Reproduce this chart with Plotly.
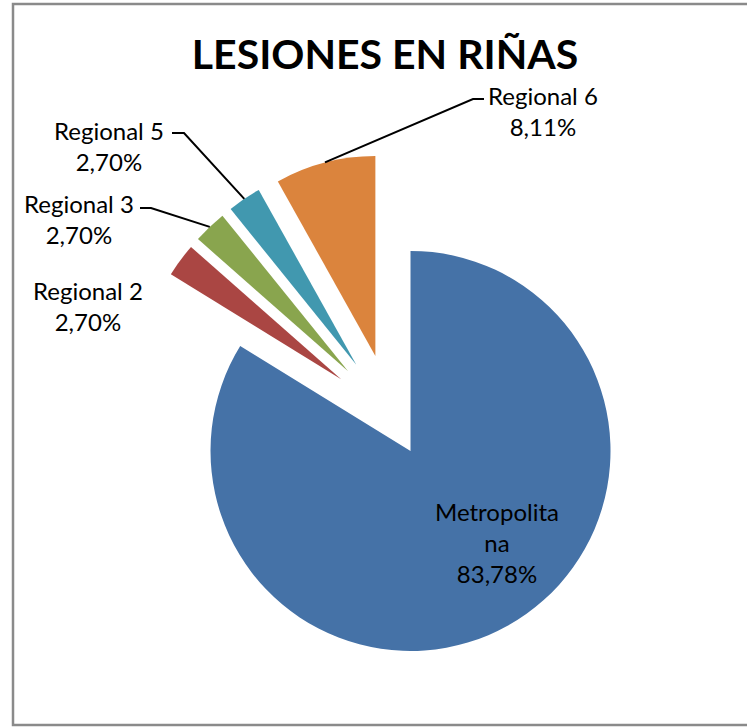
import math
import plotly.graph_objects as go

# ---- data ----
categories = ["Metropolitana", "Regional 2", "Regional 3", "Regional 5", "Regional 6"]
values = [31, 1, 1, 1, 3]
display_names = ["Metropolita<br>na", "Regional 2", "Regional 3", "Regional 5", "Regional 6"]
title_text = "LESIONES EN RIÑAS"

# ---- style ----
colors = ["#4572A7", "#AA4643", "#89A54E", "#4198AF", "#DB843D"]
pulls = [0.2, 0.31, 0.31, 0.31, 0.31]
FONT = "Lato"

W, H = 747, 727
CX, CY, RP = 391.0, 416.0, 200.0  # pie centre / radius in pixels

total = sum(values)
pct_text = [("%.2f" % (v / total * 100)).replace(".", ",") + "%" for v in values]

maxp = max(pulls)
half = RP * (1 + maxp)
dom_x = [(CX - half) / W, (CX + half) / W]
dom_y = [(H - CY - half) / H, (H - CY + half) / H]

fig = go.Figure(go.Pie(
    labels=categories,
    values=values,
    sort=False,
    direction="clockwise",
    rotation=0,
    pull=pulls,
    marker=dict(colors=colors, line=dict(width=0)),
    textinfo="none",
    hoverinfo="label+percent",
    showlegend=False,
    domain=dict(x=dom_x, y=dom_y),
))


def px(x, y):
    return x / W, 1 - y / H


# slice mid-angles (clockwise from 12 o'clock) -> outer edge point of each pulled slice
cum = 0.0
edge_pts = []
for v, p in zip(values, pulls):
    mid = (cum + v / 2) / total * 2 * math.pi
    cum += v
    d = RP * (1 + p)
    edge_pts.append((CX + d * math.sin(mid), CY - d * math.cos(mid)))

# label placement (pixels): centre of text block
label_pos = {
    0: (497, 542),
    1: (88, 306),
    2: (79, 219),
    3: (109, 146),
    4: (543, 111),
}
# leader line start points (label side): (start, elbow)
leader = {
    2: ((140, 208), (151, 208)),
    3: ((172, 133), (184, 133)),
    4: ((484, 99), (473, 99)),
}

annotations = []
for i, (lx, ly) in label_pos.items():
    ax_, ay_ = px(lx, ly)
    annotations.append(dict(
        x=ax_, y=ay_, xref="paper", yref="paper",
        text=display_names[i] + "<br>" + pct_text[i],
        showarrow=False, xanchor="center", yanchor="middle", align="center",
        font=dict(family=FONT, size=24, color="#000000"),
    ))

shapes = []
for i, (s, e) in leader.items():
    tx, ty = edge_pts[i]
    p0 = px(*s)
    p1 = px(*e)
    p2 = px(tx, ty)
    shapes.append(dict(
        type="path", xref="paper", yref="paper",
        path="M %f,%f L %f,%f L %f,%f" % (p0[0], p0[1], p1[0], p1[1], p2[0], p2[1]),
        line=dict(color="#000000", width=2),
    ))

# chart frame
shapes.append(dict(
    type="rect", xref="paper", yref="paper",
    x0=13 / W, x1=760 / W, y0=1 - 725 / H, y1=1 - 4 / H,
    line=dict(color="#8a8a8a", width=2.5), fillcolor="rgba(0,0,0,0)",
))

fig.update_layout(
    width=W, height=H,
    margin=dict(l=0, r=0, t=0, b=0),
    paper_bgcolor="white",
    plot_bgcolor="white",
    title=dict(text="<b>%s</b>" % title_text, x=385 / W, y=1 - 55 / H,
               xanchor="center", yanchor="middle",
               font=dict(family=FONT, size=41, color="#000000")),
    annotations=annotations,
    shapes=shapes,
)

fig.write_html(
    "out.html",
    config={"displayModeBar": False},
    post_script="document.body.style.margin='0px';document.body.style.overflow='hidden';",
)
